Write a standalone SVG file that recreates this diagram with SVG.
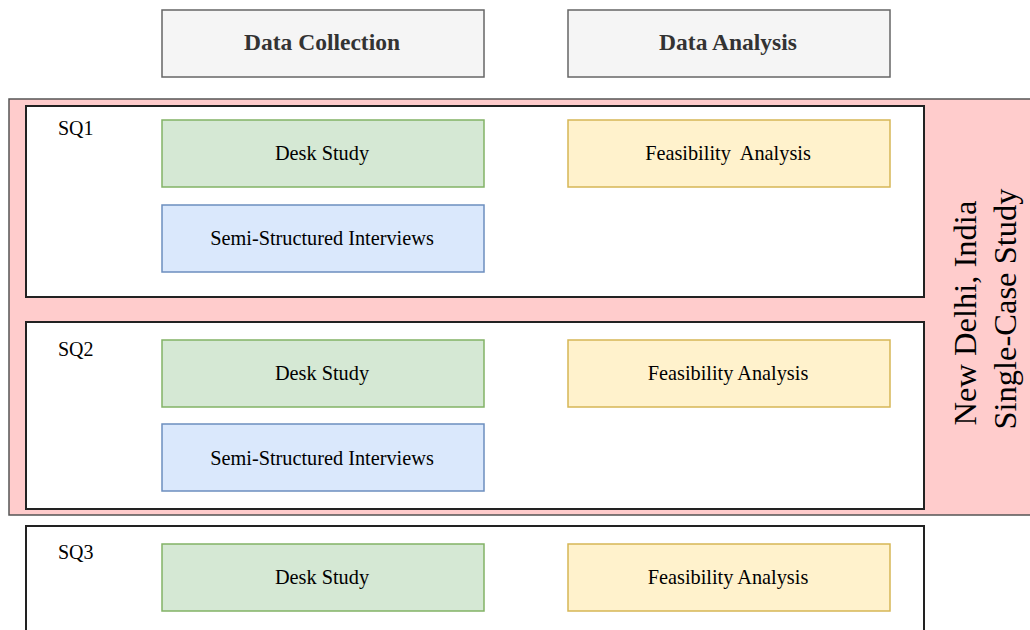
<svg xmlns="http://www.w3.org/2000/svg" width="1030" height="630" viewBox="0 0 1030 630">
  <style>
    text { font-family: "Liberation Serif", "Times New Roman", serif; fill: #000; }
    .hdr { fill: #f5f5f5; stroke: #666; stroke-width: 1.5; }
    .hdr-t { font-size: 23.5px; font-weight: bold; fill: #333; text-anchor: middle; }
    .sq { fill: #fff; stroke: #222; stroke-width: 2; }
    .sq-t { font-size: 20px; }
    .desk { fill: #d5e8d4; stroke: #82b366; stroke-width: 1.5; }
    .semi { fill: #dae8fc; stroke: #6c8ebf; stroke-width: 1.5; }
    .feas { fill: #fff2cc; stroke: #d6b656; stroke-width: 1.5; }
    .lbl { font-size: 20.3px; text-anchor: middle; }
    .case { font-size: 32.5px; text-anchor: middle; }
  </style>

  <!-- column headers -->
  <g id="hdr-collection">
    <rect class="hdr" x="162" y="10" width="322" height="67"/>
    <text class="hdr-t" x="322" y="50">Data Collection</text>
  </g>
  <g id="hdr-analysis">
    <rect class="hdr" x="568" y="10" width="322" height="67"/>
    <text class="hdr-t" x="728" y="50">Data Analysis</text>
  </g>

  <!-- single-case study band covering SQ1 and SQ2 -->
  <g id="case-study">
    <rect x="9" y="99" width="1030" height="416" fill="#ffcccc" stroke="#555" stroke-width="1.5"/>
    <text class="case" transform="translate(976,309) rotate(-90)">
      <tspan x="0" y="0">New Delhi, India</tspan>
      <tspan x="0" y="40">Single-Case Study</tspan>
    </text>
  </g>

  <!-- SQ1 -->
  <g id="sq1">
    <rect class="sq" x="26" y="106" width="898" height="191"/>
    <text class="sq-t" x="58" y="135">SQ1</text>
  </g>
  <g id="sq1-desk">
    <rect class="desk" x="162" y="120" width="322" height="67"/>
    <text class="lbl" x="322" y="160">Desk Study</text>
  </g>
  <g id="sq1-semi">
    <rect class="semi" x="162" y="205" width="322" height="67"/>
    <text class="lbl" x="322" y="245">Semi-Structured Interviews</text>
  </g>
  <g id="sq1-feas">
    <rect class="feas" x="568" y="120" width="322" height="67"/>
    <text class="lbl" x="728" y="160" xml:space="preserve">Feasibility  Analysis</text>
  </g>

  <!-- SQ2 -->
  <g id="sq2">
    <rect class="sq" x="26" y="322" width="898" height="187"/>
    <text class="sq-t" x="58" y="356">SQ2</text>
  </g>
  <g id="sq2-desk">
    <rect class="desk" x="162" y="340" width="322" height="67"/>
    <text class="lbl" x="322" y="380">Desk Study</text>
  </g>
  <g id="sq2-semi">
    <rect class="semi" x="162" y="424" width="322" height="67"/>
    <text class="lbl" x="322" y="465">Semi-Structured Interviews</text>
  </g>
  <g id="sq2-feas">
    <rect class="feas" x="568" y="340" width="322" height="67"/>
    <text class="lbl" x="728" y="380">Feasibility Analysis</text>
  </g>

  <!-- SQ3 -->
  <g id="sq3">
    <rect class="sq" x="26" y="526" width="898" height="120"/>
    <text class="sq-t" x="58" y="559">SQ3</text>
  </g>
  <g id="sq3-desk">
    <rect class="desk" x="162" y="544" width="322" height="67"/>
    <text class="lbl" x="322" y="584">Desk Study</text>
  </g>
  <g id="sq3-feas">
    <rect class="feas" x="568" y="544" width="322" height="67"/>
    <text class="lbl" x="728" y="584">Feasibility Analysis</text>
  </g>

  <g id="connectors"/>
</svg>
